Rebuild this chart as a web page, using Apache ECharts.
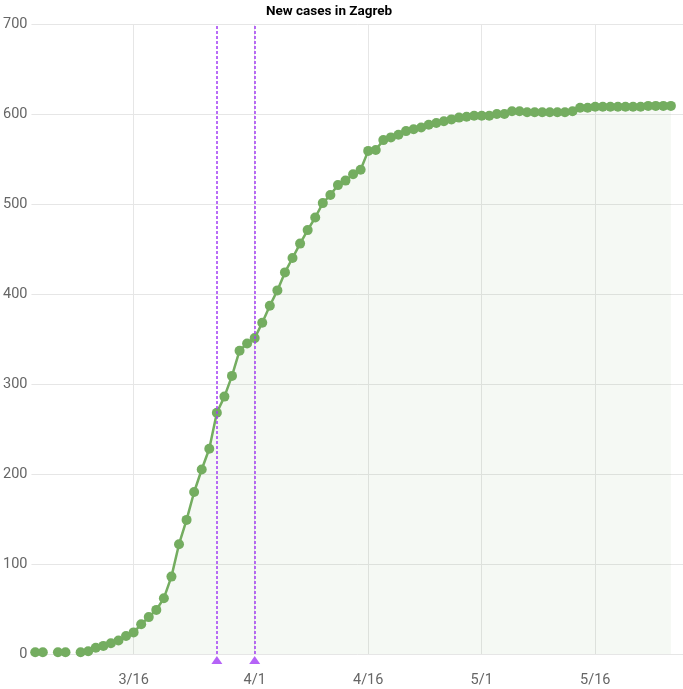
<!DOCTYPE html>
<html><head><meta charset="utf-8">
<script src="https://cdn.jsdelivr.net/npm/echarts@6/dist/echarts.min.js"></script>
<style>html,body{margin:0;padding:0;background:#fff}#c{width:683px;height:689px}</style>
</head><body><div id="c"></div>
<script>
const dates = ["3/3","3/4","3/5","3/6","3/7","3/8","3/9","3/10","3/11","3/12","3/13","3/14","3/15","3/16","3/17","3/18","3/19","3/20","3/21","3/22","3/23","3/24","3/25","3/26","3/27","3/28","3/29","3/30","3/31",
"4/1","4/2","4/3","4/4","4/5","4/6","4/7","4/8","4/9","4/10","4/11","4/12","4/13","4/14","4/15","4/16","4/17","4/18","4/19","4/20","4/21","4/22","4/23","4/24","4/25","4/26","4/27","4/28","4/29","4/30",
"5/1","5/2","5/3","5/4","5/5","5/6","5/7","5/8","5/9","5/10","5/11","5/12","5/13","5/14","5/15","5/16","5/17","5/18","5/19","5/20","5/21","5/22","5/23","5/24","5/25","5/26"];
const cases = [2,2,null,2,2,null,2,3,7,9,12,15,20,24,33,41,49,62,86,122,149,180,205,228,268,286,309,337,345,
351,368,387,404,424,440,456,471,485,501,510,521,526,533,538,559,560,571,574,577,581,583,585,588,590,592,594,596,597,598,
598,598,600,600,603,603,602,602,602,602,602,602,603,607,607,608,608,608,608,608,608,608,609,609,609,609];
const tickLabels = ["3/16","4/1","4/16","5/1","5/16"];
const markerDates = ["3/27","4/1"];
const yTicks = [0,100,200,300,400,500,600,700];

// day number of a "m/d" date in 2020 (days since Jan 1)
function toDay(s){const p=s.split('/').map(Number);return Math.round((Date.UTC(2020,p[0]-1,p[1])-Date.UTC(2020,0,1))/86400000);}
const seriesData = dates.map((d,i)=>[toDay(d), cases[i]]);
const tickDays = tickLabels.map(toDay);
const labelByDay = {}; tickLabels.forEach(l=>{labelByDay[toDay(l)]=l;});
const PURPLE = '#a23cf5';
const GREEN = '#74ad60';

const chart = echarts.init(document.getElementById('c'), null, {renderer:'canvas'});
chart.setOption({
  animation:false,
  title:{text:'New cases in Zagreb', left:261, top:0,
    textStyle:{fontFamily:'Roboto', fontSize:13.5, fontWeight:'bold', color:'#000'}},
  grid:{left:30, right:0, top:24, bottom:35, containLabel:false},
  xAxis:{type:'value',
    min: toDay(dates[0]) - 0.5,
    max: toDay(dates[dates.length-1]) + 1.6,
    axisLine:{show:false},
    axisTick:{show:false, customValues: tickDays},
    axisLabel:{customValues: tickDays, formatter:(v)=>labelByDay[Math.round(v)]||'', color:'#666', fontFamily:'Roboto', fontSize:14.5, margin:19},
    splitLine:{show:true, lineStyle:{color:'#e6e6e6', width:1}}
  },
  yAxis:{type:'value', min:yTicks[0], max:yTicks[yTicks.length-1], interval:100,
    axisLine:{show:false}, axisTick:{show:false},
    axisLabel:{color:'#666', fontFamily:'Roboto', fontSize:14.5, margin:4},
    splitLine:{lineStyle:{color:'#e6e6e6', width:1}}
  },
  series:[
    {type:'line', data:seriesData, connectNulls:false,
      symbol:'circle', symbolSize:10, showSymbol:true,
      itemStyle:{color:GREEN},
      lineStyle:{color:GREEN, width:2.5},
      areaStyle:{color:'rgba(116,173,96,0.10)'},
      z:3
    },
    {type:'scatter', data: markerDates.map(d=>[toDay(d),0]),
      symbol:'triangle', symbolSize:[11,8], symbolOffset:[0,6],
      itemStyle:{color:PURPLE}, clip:false, z:5, silent:true,
      markLine:{silent:true, symbol:['none','none'],
        lineStyle:{color:PURPLE, type:[3,2], width:1.5},
        label:{show:false},
        data: markerDates.map(d=>({xAxis: toDay(d)}))
      }
    }
  ]
});
</script></body></html>
